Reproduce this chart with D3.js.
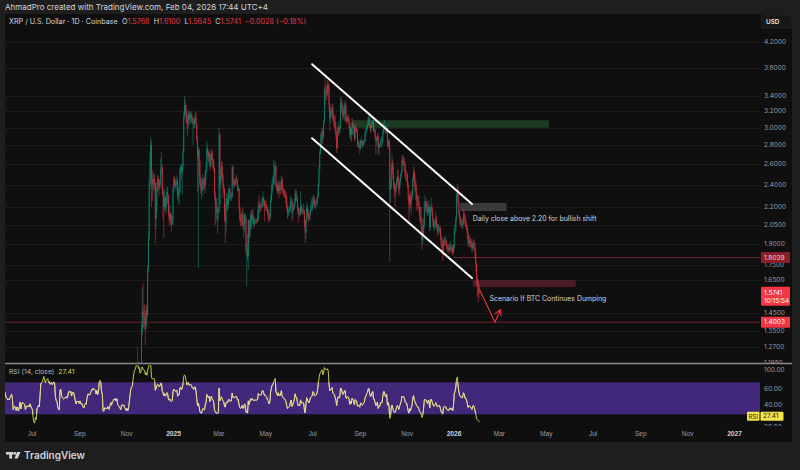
<!DOCTYPE html>
<html>
<head>
<meta charset="utf-8">
<script src="https://cdn.jsdelivr.net/npm/d3@7/dist/d3.min.js"></script>
<style>
  body { margin: 0; background: #1e1e1e; }
  svg { display: block; font-family: Inter, "Noto Sans", "DejaVu Sans", sans-serif; }
</style>
</head>
<body>
<svg id="chart" width="800" height="470"></svg>
<script>
// closes before the candles come into view (needed to warm up the RSI)
const earlyStart = "2024-05-01";
const earlyCloses = [
    0.503,0.512,0.527,0.531,0.528,0.522,0.519,0.508,0.517,0.502,0.499,0.504,0.512,0.500,0.521,0.513,0.519,0.516,0.522,0.541,0.538,0.532,0.527,0.531,0.529,0.533,0.534,0.527,0.521,0.519,0.516, // May
    0.518,0.516,0.521,0.523,0.527,0.519,0.493,0.497,0.499,0.494,0.487,0.493,0.486,0.481,0.488,0.497,0.477,0.486,0.491,0.489,0.488,0.485,0.471,0.476,0.478,0.475,0.477,0.474,0.479,0.474, // Jun
    0.469,0.466,0.438,0.412,0.408,0.418,0.404,0.428,0.432,0.437,0.431,0.465,0.528,0.538,0.543,0.567,0.593,0.582,0.571,0.598,0.602,0.611,0.598,0.606,0.597,0.601,0.612,0.604,0.613,0.622,0.618, // Jul
    0.571,0.553,0.548,0.518,0.503,0.498,0.612,0.619,0.581,0.566,0.561,0.558,0.562,0.567,0.571,0.563,0.568,0.598,0.601,0.596,0.602,0.583,0.601,0.604,0.598,0.583,0.565,0.551,0.563,0.559,0.562, // Aug
    0.552,0.561,0.548,0.551,0.541,0.532,0.529,0.538,0.542,0.539,0.556,0.571,0.572,0.568,0.571,0.579,0.583,0.591,0.588,0.593,0.591,0.589,0.582,0.592,0.583,0.592,0.628,0.641,0.638,0.611, // Sep
    0.604,0.524,0.521,0.533,0.531,0.532,0.527,0.534,0.531,0.521,0.533,0.542,0.531,0.541,0.543,0.551,0.548,0.552,0.544,0.551,0.532,0.527,0.521,0.518,0.511,0.521,0.523,0.519,0.521,0.512,0.509, // Oct
    0.503,0.507,0.499,0.502,0.514,0.531,0.552,0.561,0.563 // Nov 1-9
];

// daily candles, open = previous close
const candleStart = "2024-11-10";
const closes = [
    0.60,0.65,0.70,0.72,0.80,0.97,1.13,1.08,1.14,1.09,1.12,1.35,1.46,1.43,1.43,1.42,1.38,1.47,1.44,1.72,1.95,
    2.40,2.58,2.80,2.45,2.40,2.40,2.45,2.42,2.10,2.20,2.37,2.45,2.43,2.38,2.43,2.55,2.57,2.35,2.30,2.20,2.28,2.20,2.25,2.33,2.30,2.15,2.10,2.14,2.07,2.06,2.08,
    2.36,2.45,2.43,2.40,2.41,2.44,2.30,2.32,2.33,2.55,2.57,2.52,2.58,2.74,3.15,3.28,3.25,3.15,3.05,3.10,3.17,3.10,3.11,3.15,3.13,3.08,3.08,3.05,3.12,3.12,3.04,
    2.87,2.68,2.75,2.63,2.41,2.38,2.35,2.41,2.45,2.42,2.40,2.51,2.55,2.76,2.72,2.68,2.72,2.58,2.68,2.72,2.64,2.63,2.56,2.30,2.24,2.17,2.18,2.15,
    2.16,2.92,2.40,2.48,2.58,2.49,2.39,2.36,2.12,2.07,2.22,2.27,2.22,2.33,2.36,2.28,2.29,2.29,2.57,2.42,2.42,2.40,2.45,2.46,2.44,2.35,2.36,2.19,2.10,2.08,2.09,
    2.14,2.04,2.05,2.13,2.11,1.85,1.86,1.81,2.09,1.96,2.04,2.13,2.08,2.13,2.11,2.06,2.08,2.08,2.09,2.08,2.09,2.22,2.20,2.20,2.19,2.20,2.27,2.28,2.25,2.21,
    2.22,2.20,2.19,2.15,2.14,2.10,2.12,2.26,2.33,2.40,2.42,2.47,2.53,2.58,2.40,2.38,2.34,2.40,2.35,2.37,2.36,2.45,2.37,2.34,2.33,2.32,2.30,2.28,2.20,2.15,2.16,
    2.17,2.18,2.24,2.25,2.15,2.18,2.20,2.25,2.32,2.27,2.27,2.19,2.14,2.15,2.14,2.21,2.16,2.17,2.16,2.16,2.05,1.99,2.09,2.19,2.15,2.12,2.10,2.14,2.18,2.19,
    2.20,2.27,2.26,2.22,2.22,2.23,2.24,2.29,2.40,2.56,2.72,2.82,2.88,2.96,2.90,3.07,3.48,3.45,3.45,3.44,3.56,3.53,3.29,3.12,3.18,3.18,3.25,3.12,3.09,3.08,3.00,
    2.92,2.77,2.95,3.01,2.97,3.00,3.31,3.30,3.22,3.15,3.17,3.26,3.28,3.09,3.08,3.12,3.11,3.06,2.92,2.99,2.92,3.06,3.03,3.00,2.87,3.00,2.98,2.96,2.81,2.83,2.80,
    2.77,2.85,2.85,2.80,2.81,2.83,2.85,2.94,2.96,3.01,3.03,3.11,3.12,3.04,3.00,3.01,3.07,3.09,2.97,2.97,2.90,2.85,2.87,2.90,2.77,2.80,2.80,2.85,2.85,2.85,
    2.94,3.02,3.02,2.97,2.95,2.99,2.81,2.85,2.80,2.35,2.38,2.56,2.62,2.51,2.41,2.35,2.34,2.38,2.44,2.48,2.41,2.36,2.43,2.47,2.52,2.64,2.62,2.63,2.60,2.51,2.50,
    2.49,2.40,2.29,2.22,2.29,2.23,2.28,2.32,2.46,2.52,2.42,2.38,2.33,2.28,2.25,2.25,2.20,2.12,2.10,2.05,1.93,1.96,2.05,2.22,2.24,2.22,2.20,2.15,2.20,2.20,
    2.03,2.18,2.20,2.15,2.09,2.04,2.04,2.06,2.09,2.05,2.00,2.02,2.02,2.02,1.96,1.90,1.87,1.84,1.92,1.93,1.92,1.92,1.88,1.87,1.87,1.86,1.88,1.88,1.86,1.87,1.84,
    1.88,2.00,2.03,2.10,2.30,2.35,2.24,2.15,2.10,2.07,2.07,2.05,2.07,2.14,2.12,2.06,2.06,2.03,1.98,1.91,1.93,1.92,1.91,1.90,1.87,1.90,1.91,1.88,1.83,1.76,1.65,
    1.62,1.60,1.5768,1.5741
];
const highs = [
    0.62,0.70,0.78,0.76,0.83,1.00,1.27,1.15,1.20,1.16,1.17,1.40,1.60,1.63,1.49,1.50,1.45,1.50,1.50,1.75,2.00,
    2.45,2.73,2.90,2.85,2.55,2.50,2.52,2.50,2.42,2.30,2.42,2.50,2.48,2.45,2.46,2.66,2.73,2.60,2.38,2.33,2.36,2.30,2.29,2.38,2.38,2.31,2.20,2.22,2.16,2.14,2.12,
    2.38,2.48,2.49,2.46,2.43,2.49,2.46,2.38,2.38,2.57,2.60,2.59,2.61,2.76,3.20,3.40,3.35,3.28,3.20,3.15,3.20,3.22,3.18,3.20,3.20,3.16,3.11,3.11,3.15,3.18,3.20,
    3.06,2.90,2.78,2.77,2.64,2.48,2.46,2.45,2.50,2.47,2.47,2.54,2.62,2.85,2.80,2.74,2.76,2.72,2.69,2.75,2.76,2.66,2.66,2.57,2.34,2.28,2.28,2.20,
    2.20,3.00,2.95,2.56,2.63,2.63,2.50,2.41,2.37,2.23,2.28,2.32,2.31,2.36,2.40,2.37,2.32,2.33,2.59,2.59,2.45,2.45,2.46,2.50,2.48,2.45,2.39,2.37,2.21,2.14,2.15,
    2.17,2.19,2.07,2.15,2.14,2.11,1.90,1.98,2.10,2.08,2.05,2.15,2.17,2.18,2.18,2.12,2.10,2.10,2.11,2.10,2.17,2.25,2.30,2.24,2.24,2.22,2.29,2.34,2.29,2.26,
    2.26,2.25,2.22,2.20,2.18,2.15,2.18,2.30,2.40,2.45,2.49,2.65,2.60,2.63,2.58,2.42,2.42,2.44,2.42,2.44,2.42,2.49,2.47,2.40,2.36,2.36,2.35,2.33,2.30,2.22,2.20,
    2.20,2.22,2.30,2.28,2.27,2.21,2.23,2.27,2.35,2.36,2.34,2.30,2.20,2.19,2.18,2.34,2.23,2.20,2.19,2.23,2.18,2.09,2.10,2.24,2.21,2.18,2.14,2.17,2.22,2.27,
    2.24,2.30,2.31,2.29,2.25,2.26,2.28,2.32,2.42,2.59,2.75,2.95,2.92,3.00,2.98,3.10,3.52,3.65,3.55,3.52,3.62,3.60,3.55,3.30,3.25,3.22,3.30,3.30,3.18,3.15,3.15,
    3.05,2.96,2.98,3.08,3.02,3.04,3.38,3.38,3.35,3.24,3.27,3.30,3.34,3.32,3.14,3.15,3.16,3.12,3.07,3.02,3.00,3.12,3.10,3.06,3.02,3.03,3.06,3.00,2.99,2.86,2.86,
    2.80,2.86,2.89,2.86,2.85,2.86,2.87,2.97,3.00,3.03,3.05,3.14,3.18,3.13,3.04,3.03,3.10,3.14,3.09,3.00,2.99,2.88,2.89,2.93,2.94,2.83,2.82,2.87,2.90,2.90,
    2.98,3.06,3.10,3.03,3.02,3.04,3.00,2.87,2.86,2.87,2.45,2.60,2.71,2.65,2.58,2.42,2.40,2.42,2.47,2.54,2.55,2.45,2.46,2.51,2.55,2.69,2.70,2.68,2.67,2.62,2.56,
    2.53,2.51,2.43,2.31,2.32,2.34,2.30,2.35,2.48,2.58,2.55,2.50,2.45,2.40,2.30,2.30,2.30,2.20,2.20,2.20,2.11,2.05,2.10,2.25,2.30,2.28,2.25,2.25,2.22,2.26,
    2.22,2.20,2.28,2.22,2.18,2.10,2.09,2.11,2.16,2.12,2.06,2.06,2.05,2.04,2.04,1.97,1.95,1.93,1.94,1.96,1.95,1.96,1.93,1.90,1.90,1.90,1.91,1.92,1.90,1.89,1.90,
    1.90,2.02,2.06,2.12,2.32,2.41,2.38,2.25,2.17,2.12,2.10,2.10,2.10,2.18,2.16,2.13,2.10,2.08,2.05,2.00,1.96,1.97,1.95,1.94,1.93,1.92,1.94,1.93,1.91,1.85,1.77,
    1.68,1.66,1.63,1.61
];
const lows = [
    0.55,0.59,0.62,0.67,0.71,0.78,0.96,1.02,1.04,1.06,1.06,1.10,1.33,1.37,1.37,1.36,1.28,1.36,1.41,1.43,1.70,
    1.93,2.35,2.40,2.20,2.25,2.30,2.36,2.35,1.91,2.02,2.15,2.33,2.35,2.30,2.36,2.40,2.50,2.30,2.10,1.95,2.17,2.17,2.14,2.24,2.22,2.12,2.05,2.08,2.04,2.00,2.05,
    2.05,2.34,2.38,2.37,2.35,2.39,2.26,2.24,2.22,2.31,2.49,2.45,2.31,2.55,2.73,3.10,3.15,3.06,2.98,2.90,3.00,3.05,3.03,3.06,3.06,3.04,2.80,2.99,3.00,3.05,3.00,
    2.83,2.33,1.73,2.50,2.37,2.32,2.27,2.34,2.30,2.36,2.35,2.32,2.44,2.52,2.66,2.62,2.63,2.54,2.57,2.64,2.55,2.58,2.52,2.27,2.05,2.08,2.10,1.98,
    2.08,2.15,2.36,2.22,2.44,2.45,2.28,2.32,2.08,1.91,1.98,2.16,2.17,2.18,2.32,2.26,2.25,2.25,2.28,2.39,2.37,2.38,2.39,2.43,2.40,2.34,2.33,2.17,2.07,2.04,2.04,
    2.05,2.01,1.95,2.00,2.07,1.82,1.61,1.78,1.72,1.91,1.94,2.01,2.02,2.06,2.10,2.02,2.04,2.06,2.06,2.06,2.07,2.08,2.16,2.15,2.16,2.17,2.19,2.22,2.21,2.08,
    2.17,2.17,2.16,2.12,2.08,2.07,2.08,2.11,2.24,2.30,2.35,2.40,2.40,2.50,2.37,2.34,2.31,2.32,2.28,2.32,2.31,2.35,2.32,2.31,2.29,2.28,2.27,2.22,2.17,2.10,2.12,
    2.13,2.15,2.16,2.20,2.08,2.10,2.17,2.18,2.22,2.25,2.25,2.16,2.07,2.12,2.12,2.13,2.15,2.14,2.13,2.14,2.03,1.91,1.94,2.07,2.11,2.09,2.08,2.08,2.13,2.17,
    2.16,2.18,2.22,2.19,2.18,2.20,2.20,2.22,2.28,2.38,2.53,2.70,2.79,2.84,2.81,2.87,3.05,3.27,3.35,3.34,3.40,3.45,3.20,2.96,3.05,3.12,3.15,3.08,3.02,3.00,2.95,
    2.87,2.72,2.76,2.93,2.90,2.93,2.98,3.20,3.17,3.10,3.11,3.08,3.17,3.06,3.04,3.07,3.07,3.00,2.89,2.86,2.84,2.90,3.00,2.92,2.84,2.88,2.95,2.94,2.78,2.77,2.77,
    2.70,2.75,2.82,2.77,2.78,2.79,2.82,2.84,2.90,2.94,2.98,3.02,3.08,3.00,2.94,2.96,2.99,3.03,2.95,2.95,2.87,2.70,2.80,2.83,2.70,2.69,2.77,2.78,2.80,2.78,
    2.82,2.93,2.98,2.94,2.92,2.94,2.78,2.78,2.75,1.77,2.24,2.36,2.50,2.45,2.36,2.28,2.20,2.30,2.36,2.42,2.38,2.30,2.32,2.40,2.48,2.52,2.59,2.58,2.53,2.46,2.43,
    2.44,2.37,2.25,2.08,2.16,2.19,2.13,2.26,2.29,2.45,2.38,2.34,2.26,2.17,2.21,2.18,2.15,2.07,2.07,1.99,1.86,1.90,1.96,2.02,2.17,2.16,2.15,2.12,2.13,2.17,
    2.00,2.01,2.16,2.12,2.04,2.02,2.00,2.02,2.03,2.02,1.96,1.98,1.99,1.98,1.93,1.88,1.83,1.78,1.82,1.89,1.89,1.89,1.86,1.85,1.84,1.83,1.85,1.85,1.84,1.84,1.82,
    1.83,1.86,1.98,2.01,2.08,2.24,2.20,2.12,2.06,2.04,2.04,2.02,2.02,2.05,2.08,2.04,2.02,2.00,1.94,1.88,1.89,1.88,1.88,1.87,1.84,1.85,1.87,1.86,1.80,1.71,1.62,
    1.55,1.51,1.54,1.5645
];

const priceTicks = [4.2, 3.8, 3.4, 3.2, 3.0, 2.8, 2.6, 2.4, 2.2, 2.05, 1.9, 1.75, 1.65, 1.45, 1.35, 1.27, 1.195];
const rsiTicks = [100, 60, 40, 20];
const rsiBand = [30, 70];
const rsiLast = 27.41;
const ohlc = [["O", "1.5768"], ["H", "1.6100"], ["L", "1.5645"], ["C", "1.5741"]];
const change = "\u22120.0028 (\u22120.18%)";

// drawings: [from, to, low, high]
const greenZone = ["2025-08-23", "2026-05-05", 3.00, 3.09];
const grayZone = ["2026-01-10", "2026-03-11", 2.165, 2.235];
const redZone = ["2026-01-26", "2026-06-09", 1.607, 1.652];
const channelTop = [["2025-07-01", 3.85], ["2026-01-25", 2.225]];
const channelBottom = [["2025-07-01", 2.88], ["2026-01-25", 1.665]];
const levelHigh = ["2026-01-01", 1.8039];
const levelLow = 1.4003;
const scenario = [["2026-02-04", 1.59], ["2026-02-24", 1.40], ["2026-03-03", 1.47]];
const notes = [
    ["2026-01-26", 2.10, "Daily close above 2.20 for bullish shift"],
    ["2026-02-17", 1.539, "Scenario If BTC Continues Dumping"]
];

// ---- helpers ----
const DAY = 864e5;
function day(s) { return new Date(s + "T00:00:00Z"); }
function dayAt(start, i) { return new Date(day(start).getTime() + i * DAY); }

function wilderRsi(values, n) {
    var out = values.map(() => null);
    var gain = 0, loss = 0;
    for (var i = 1; i <= n; i++) {
        var d = values[i] - values[i - 1];
        gain += Math.max(d, 0);
        loss += Math.max(-d, 0);
    }
    gain /= n; loss /= n;
    out[n] = 100 - 100 / (1 + gain / loss);
    for (var j = n + 1; j < values.length; j++) {
        var dd = values[j] - values[j - 1];
        gain = (gain * (n - 1) + Math.max(dd, 0)) / n;
        loss = (loss * (n - 1) + Math.max(-dd, 0)) / n;
        out[j] = loss === 0 ? 100 : 100 - 100 / (1 + gain / loss);
    }
    return out;
}

// ---- layout ----
const svg = d3.select("#chart");
const plotL = 5, plotR = 760, frameR = 792;
const mainTop = 14, mainBottom = 363;
const rsiTop = 365, rsiBottom = 426, frameBottom = 442;
const UP = "#089981", DOWN = "#f23645";

const x = d3.scaleUtc().domain([day("2025-01-01"), day("2027-01-01")]).range([173, 734]);
const y = d3.scaleLog().domain([1.195, 4.2]).range([362.6, 42]);
const r = d3.scaleLinear().domain(rsiBand).range([414.3, 382.3]);

const defs = svg.append("defs");
defs.append("clipPath").attr("id", "mainClip").append("rect")
    .attr("x", plotL).attr("y", mainTop).attr("width", plotR - plotL).attr("height", mainBottom - mainTop);
defs.append("clipPath").attr("id", "axisClip").append("rect")
    .attr("x", plotR).attr("y", 30).attr("width", 40).attr("height", mainBottom - 30);
defs.append("clipPath").attr("id", "rsiClip").append("rect")
    .attr("x", plotL).attr("y", rsiTop).attr("width", plotR - plotL).attr("height", rsiBottom - rsiTop);
defs.append("clipPath").attr("id", "rsiAxisClip").append("rect")
    .attr("x", plotR).attr("y", rsiTop).attr("width", 40).attr("height", rsiBottom - rsiTop);
defs.append("clipPath").attr("id", "inBand").append("rect")
    .attr("x", plotL).attr("y", r(70)).attr("width", plotR - plotL).attr("height", r(30) - r(70));
defs.append("marker").attr("id", "arrow").attr("viewBox", "0 0 8 8")
    .attr("refX", 6).attr("refY", 4).attr("markerWidth", 8).attr("markerHeight", 8)
    .attr("markerUnits", "userSpaceOnUse").attr("orient", "auto")
    .append("path").attr("d", "M0,0.5 L6,4 L0,7.5").attr("fill", "none")
    .attr("stroke", DOWN).attr("stroke-width", 1.1);

svg.append("rect").attr("width", 800).attr("height", 470).attr("fill", "#1e1e1e");
svg.append("rect").attr("x", plotL).attr("y", mainTop)
    .attr("width", frameR - plotL).attr("height", frameBottom - mainTop).attr("fill", "#0f0f0f");

svg.append("text").attr("x", 5).attr("y", 10).attr("font-size", 8).attr("fill", "#d1d4dc")
    .text("AhmadPro created with TradingView.com, Feb 04, 2026 17:44 UTC+4");

// ---- main pane ----
const main = svg.append("g").attr("clip-path", "url(#mainClip)");

main.append("g").selectAll("line").data(priceTicks).join("line")
    .attr("x1", plotL).attr("x2", plotR)
    .attr("y1", d => Math.round(y(d)) + 0.5).attr("y2", d => Math.round(y(d)) + 0.5)
    .attr("stroke", "#1c1c1c");

main.append("line")
    .attr("x1", x(day(levelHigh[0]))).attr("x2", plotR)
    .attr("y1", y(levelHigh[1])).attr("y2", y(levelHigh[1]))
    .attr("stroke", "#6e2230").attr("stroke-width", 1);
main.append("line")
    .attr("x1", plotL).attr("x2", plotR)
    .attr("y1", y(levelLow)).attr("y2", y(levelLow))
    .attr("stroke", "#6e2230").attr("stroke-width", 1);

function zone(z, fill) {
    main.append("rect")
        .attr("x", x(day(z[0]))).attr("width", x(day(z[1])) - x(day(z[0])))
        .attr("y", y(z[3])).attr("height", y(z[2]) - y(z[3]))
        .attr("fill", fill);
}
zone(greenZone, "#1d3a22");
zone(grayZone, "#3b3b3b");
zone(redZone, "#4a1d25");

const candles = closes.map(function (c, i) {
    var o = i === 0 ? earlyCloses[earlyCloses.length - 1] : closes[i - 1];
    return {
        t: dayAt(candleStart, i), o: o, c: c,
        h: Math.max(highs[i], o, c), l: Math.min(lows[i], o, c)
    };
});

const cg = main.append("g").attr("opacity", 0.85);
cg.selectAll("line").data(candles).join("line")
    .attr("x1", d => x(d.t)).attr("x2", d => x(d.t))
    .attr("y1", d => y(d.h)).attr("y2", d => y(d.l))
    .attr("stroke", d => d.c >= d.o ? UP : DOWN).attr("stroke-width", 0.6);
cg.selectAll("rect").data(candles).join("rect")
    .attr("x", d => x(d.t) - 0.4).attr("width", 0.8)
    .attr("y", d => y(Math.max(d.o, d.c)))
    .attr("height", d => Math.max(0.6, y(Math.min(d.o, d.c)) - y(Math.max(d.o, d.c))))
    .attr("fill", d => d.c >= d.o ? UP : DOWN);

[channelTop, channelBottom].forEach(function (seg) {
    main.append("line")
        .attr("x1", x(day(seg[0][0]))).attr("y1", y(seg[0][1]))
        .attr("x2", x(day(seg[1][0]))).attr("y2", y(seg[1][1]))
        .attr("stroke", "#ffffff").attr("stroke-width", 2).attr("stroke-linecap", "round");
});

main.append("path")
    .attr("d", d3.line().x(d => x(day(d[0]))).y(d => y(d[1]))(scenario))
    .attr("fill", "none").attr("stroke", DOWN).attr("stroke-width", 1.1)
    .attr("marker-end", "url(#arrow)");

main.selectAll("text.note").data(notes).join("text").attr("class", "note")
    .attr("x", d => x(day(d[0]))).attr("y", d => y(d[1]))
    .attr("dominant-baseline", "central")
    .attr("font-size", 6.9).attr("fill", "#d1d4dc")
    .text(d => d[2]);

// legend
const leg = svg.append("text").attr("x", 9).attr("y", 24).attr("font-size", 7.2).attr("fill", "#d1d4dc");
leg.append("tspan").text("XRP / U.S. Dollar \u00b7 1D \u00b7 Coinbase");
ohlc.forEach(function (kv) {
    leg.append("tspan").attr("dx", 4.2).text(kv[0]);
    leg.append("tspan").attr("fill", DOWN).text(kv[1]);
});
leg.append("tspan").attr("dx", 4.2).attr("fill", DOWN).text(change);

// price scale
svg.append("rect").attr("x", 762).attr("y", 15).attr("width", 30).attr("height", 13)
    .attr("fill", "#181818").attr("stroke", "#262626");
svg.append("text").attr("x", 766).attr("y", 24).attr("font-size", 6.4).attr("font-weight", 600)
    .attr("fill", "#e6e6e6").text("USD");

svg.append("g").attr("clip-path", "url(#axisClip)")
    .selectAll("text").data(priceTicks).join("text")
    .attr("x", 764).attr("y", d => y(d)).attr("dominant-baseline", "central")
    .attr("font-size", 6.5).attr("fill", "#9a9ca3")
    .text(d => d3.format(".4f")(d));

function priceTag(v, fill, color, lines) {
    var h = lines.length * 8 + 3;
    var top = y(v) - 5.5;
    svg.append("rect").attr("x", 761).attr("y", top).attr("width", 29).attr("height", h)
        .attr("rx", 1).attr("fill", fill);
    lines.forEach(function (s, k) {
        svg.append("text").attr("x", 764).attr("y", top + 5.7 + k * 8)
            .attr("dominant-baseline", "central").attr("font-size", 6.5)
            .attr("fill", color).text(s);
    });
}
priceTag(levelHigh[1], "#8a1d2c", "#f2d6d9", [d3.format(".4f")(levelHigh[1])]);
priceTag(closes[closes.length - 1], "#f23645", "#ffffff", [d3.format(".4f")(closes[closes.length - 1]), "10:15:54"]);
priceTag(levelLow, "#f23645", "#ffffff", [d3.format(".4f")(levelLow)]);

svg.append("line").attr("x1", plotL).attr("x2", frameR).attr("y1", 363.5).attr("y2", 363.5)
    .attr("stroke", "#8a8a8a").attr("stroke-width", 1.3);

// ---- RSI pane ----
const allCloses = earlyCloses.concat(closes);
const rsiVals = wilderRsi(allCloses, 14);
const rsiPts = rsiVals.map((v, i) => ({ t: dayAt(earlyStart, i), v: v })).filter(d => d.v !== null);

const rg = svg.append("g").attr("clip-path", "url(#rsiClip)");
rg.append("rect").attr("x", plotL).attr("width", plotR - plotL)
    .attr("y", r(70)).attr("height", r(30) - r(70)).attr("fill", "#41287a");
const rsiLine = d3.line().x(d => x(d.t)).y(d => r(d.v));
rg.append("path").attr("d", rsiLine(rsiPts)).attr("fill", "none")
    .attr("stroke", "#d3dc4a").attr("stroke-width", 0.9);
rg.append("path").attr("d", rsiLine(rsiPts)).attr("fill", "none").attr("clip-path", "url(#inBand)")
    .attr("stroke", "#e6dca6").attr("stroke-width", 0.9);

svg.append("text").attr("x", 9).attr("y", 374).attr("font-size", 6.8).attr("fill", "#b2b5be")
    .text("RSI (14, close)")
    .append("tspan").attr("dx", 4).attr("fill", "#d4d84a").text(d3.format(".2f")(rsiLast));

svg.append("g").attr("clip-path", "url(#rsiAxisClip)")
    .selectAll("text").data(rsiTicks).join("text")
    .attr("x", 764).attr("y", d => d === 100 ? rsiTop + 5 : d === 20 ? rsiBottom + 1 : r(d) - 1.5)
    .attr("dominant-baseline", "central")
    .attr("font-size", 6.5).attr("fill", "#9a9ca3")
    .text(d => d3.format(".2f")(d));

const ry = r(rsiLast);
svg.append("rect").attr("x", 747).attr("y", ry - 4.5).attr("width", 12.5).attr("height", 9)
    .attr("rx", 1).attr("fill", "#f2e54a");
svg.append("text").attr("x", 748.5).attr("y", ry).attr("dominant-baseline", "central")
    .attr("font-size", 6).attr("fill", "#1e1e1e").text("RSI");
svg.append("rect").attr("x", 760.5).attr("y", ry - 4.5).attr("width", 23).attr("height", 9)
    .attr("rx", 1).attr("fill", "#f2e54a");
svg.append("text").attr("x", 763).attr("y", ry).attr("dominant-baseline", "central")
    .attr("font-size", 6.5).attr("fill", "#1e1e1e").text(d3.format(".2f")(rsiLast));

// ---- time axis ----
const timeTicks = d3.utcMonth.every(2).range(day("2024-07-01"), day("2027-01-02"));
const ax = svg.append("g").attr("transform", "translate(0," + 427 + ")")
    .call(d3.axisBottom(x).tickValues(timeTicks).tickSize(0).tickPadding(4)
        .tickFormat(d => d.getUTCMonth() === 0 ? d3.utcFormat("%Y")(d) : d3.utcFormat("%b")(d)));
ax.select(".domain").remove();
ax.selectAll("text")
    .attr("font-family", null).attr("font-size", 6.6)
    .attr("fill", d => d.getUTCMonth() === 0 ? "#d1d4dc" : "#9a9ca3")
    .attr("font-weight", d => d.getUTCMonth() === 0 ? 700 : 400);

// ---- footer logo ----
const logo = svg.append("g").attr("fill", "#d1d4dc");
logo.append("rect").attr("x", 6).attr("y", 452).attr("width", 7.5).attr("height", 2.6);
logo.append("rect").attr("x", 9.3).attr("y", 452).attr("width", 2.8).attr("height", 6.6);
logo.append("circle").attr("cx", 15).attr("cy", 453.4).attr("r", 1.4);
logo.append("path").attr("d", "M17.2,452 L20.6,452 L17.6,458.6 L14.4,458.6 Z");
svg.append("text").attr("x", 24).attr("y", 458.6).attr("font-size", 10).attr("font-weight", 600)
    .attr("fill", "#d1d4dc").text("TradingView");
</script>
</body>
</html>
